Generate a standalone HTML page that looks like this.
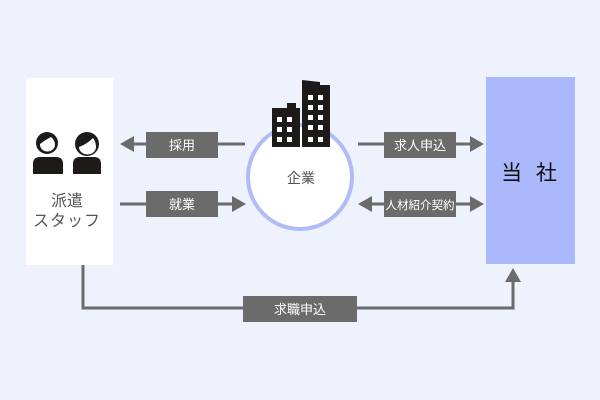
<!DOCTYPE html>
<html><head><meta charset="utf-8"><style>
html,body{margin:0;padding:0;background:#eef2fd;}
svg{display:block;}
text{font-family:"Liberation Sans","Noto Sans CJK JP",sans-serif;}
</style></head><body>
<svg width="600" height="400" viewBox="0 0 600 400" xmlns="http://www.w3.org/2000/svg">
<rect width="600" height="400" fill="#eef2fd"/>
<rect x="26" y="78" width="87" height="187" fill="#ffffff"/>
<g fill="#1e1a1a">
<circle cx="47" cy="143" r="11"/>
<path d="M33 174 V164 Q33 157 40 157 H56 Q63 157 63 164 V174 Z"/>
<circle cx="87" cy="144" r="12"/>
<path d="M73 174 V164 Q73 157 80 157 H94 Q101 157 101 164 V174 Z"/>
</g>
<g fill="#ffffff">
<path d="M40 144 Q45 140 51 137 Q55 140 55 145 A7.5 7 0 0 1 40 144 Z"/>
<path d="M79 147 Q87 144 93 138 Q96 142 96 147 A8.5 7.5 0 0 1 79 147 Z"/>
</g>
<text x="67" y="206" font-size="16" fill="#555" text-anchor="middle">派遣</text>
<text x="67" y="226" font-size="16" fill="#555" text-anchor="middle" letter-spacing="1">スタッフ</text>
<rect x="486" y="77" width="89" height="187" fill="#abb8fb"/>
<text x="531" y="180" font-size="21" fill="#111" text-anchor="middle" letter-spacing="4">当 社</text>
<circle cx="300" cy="177" r="52" fill="#ffffff" stroke="#b0bbf8" stroke-width="4"/>
<text x="301" y="183" font-size="14" fill="#555" text-anchor="middle">企業</text>
<g fill="#1e1a1a">
<path d="M272 108 H287 V103 H296 V108 H300 V147 H272 Z"/>
<path d="M302 80 L320 82 V85 H330 V147 H302 Z"/>
</g>
<g fill="#ffffff">
<rect x="277" y="117" width="5" height="5"/><rect x="287" y="117" width="5" height="5"/>
<rect x="277" y="127" width="5" height="5"/><rect x="287" y="127" width="5" height="5"/>
<rect x="277" y="137" width="5" height="5"/><rect x="287" y="137" width="5" height="5"/>
<rect x="308" y="95" width="5" height="5"/><rect x="318" y="95" width="5" height="5"/>
<rect x="308" y="105" width="5" height="5"/><rect x="318" y="105" width="5" height="5"/>
<rect x="308" y="115" width="5" height="5"/><rect x="318" y="115" width="5" height="5"/>
<rect x="308" y="125" width="5" height="5"/><rect x="318" y="125" width="5" height="5"/>
<rect x="308" y="137" width="5" height="5"/><rect x="318" y="137" width="5" height="5"/>
</g>
<g stroke="#6b6b6b" stroke-width="3" fill="none">
<line x1="130" y1="144" x2="245" y2="144"/>
<line x1="120" y1="204" x2="236" y2="204"/>
<line x1="358" y1="144" x2="473" y2="144"/>
<line x1="368" y1="204" x2="473" y2="204"/>
<polyline points="83,265 83,308 513,308 513,280"/>
</g>
<g fill="#6b6b6b">
<polygon points="120,144 134,136 134,152"/>
<polygon points="246,204 232,196 232,212"/>
<polygon points="484,144 470,136 470,152"/>
<polygon points="484,204 470,196 470,212"/>
<polygon points="358,204 372,196 372,212"/>
<polygon points="513,268 505,282 521,282"/>
<rect x="146" y="132" width="72" height="26"/>
<rect x="146" y="191" width="72" height="26"/>
<rect x="384" y="132" width="72" height="26"/>
<rect x="384" y="191" width="72" height="26"/>
<rect x="243" y="296" width="114" height="26"/>
</g>
<g fill="#ffffff" text-anchor="middle" font-size="13">
<text x="182" y="150">採用</text>
<text x="182" y="209">就業</text>
<text x="420" y="150">求人申込</text>
<text x="420" y="209" font-size="11.5">人材紹介契約</text>
<text x="300" y="314">求職申込</text>
</g>
</svg>
</body></html>
